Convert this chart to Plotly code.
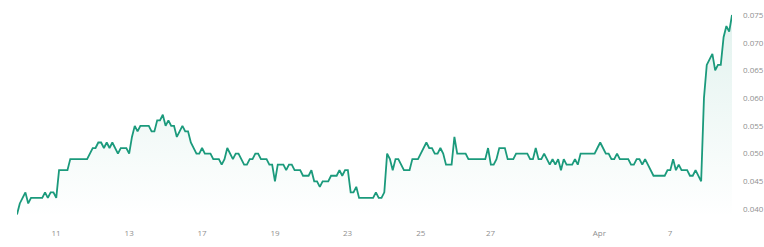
import plotly.graph_objects as go

# Series values (one per sample)
values = [
    0.039, 0.041, 0.042, 0.043, 0.041, 0.042, 0.042, 0.042, 0.042, 0.042,
    0.043, 0.042, 0.043, 0.043, 0.042, 0.047, 0.047, 0.047, 0.047, 0.049,
    0.049, 0.049, 0.049, 0.049, 0.049, 0.049, 0.050, 0.051, 0.051, 0.052,
    0.052, 0.051, 0.052, 0.051, 0.052, 0.051, 0.050, 0.051, 0.051, 0.051,
    0.050, 0.053, 0.055, 0.054, 0.055, 0.055, 0.055, 0.055, 0.054, 0.054,
    0.056, 0.056, 0.057, 0.055, 0.056, 0.055, 0.055, 0.053, 0.054, 0.055,
    0.054, 0.054, 0.052, 0.051, 0.050, 0.050, 0.051, 0.050, 0.050, 0.050,
    0.049, 0.049, 0.049, 0.048, 0.049, 0.051, 0.050, 0.049, 0.050, 0.050,
    0.049, 0.048, 0.048, 0.049, 0.049, 0.050, 0.050, 0.049, 0.049, 0.049,
    0.048, 0.048, 0.045, 0.048, 0.048, 0.048, 0.047, 0.048, 0.048, 0.047,
    0.047, 0.047, 0.046, 0.046, 0.046, 0.047, 0.045, 0.045, 0.044, 0.045,
    0.045, 0.045, 0.046, 0.046, 0.046, 0.047, 0.046, 0.047, 0.047, 0.043,
    0.043, 0.044, 0.042, 0.042, 0.042, 0.042, 0.042, 0.042, 0.043, 0.042,
    0.042, 0.043, 0.050, 0.049, 0.047, 0.049, 0.049, 0.048, 0.047, 0.047,
    0.047, 0.049, 0.049, 0.049, 0.050, 0.051, 0.052, 0.051, 0.051, 0.050,
    0.050, 0.051, 0.050, 0.048, 0.048, 0.048, 0.053, 0.050, 0.050, 0.050,
    0.050, 0.049, 0.049, 0.049, 0.049, 0.049, 0.049, 0.049, 0.051, 0.048,
    0.048, 0.049, 0.051, 0.051, 0.051, 0.049, 0.049, 0.049, 0.050, 0.050,
    0.050, 0.050, 0.050, 0.049, 0.049, 0.051, 0.049, 0.049, 0.050, 0.049,
    0.048, 0.049, 0.048, 0.049, 0.047, 0.049, 0.048, 0.048, 0.048, 0.049,
    0.048, 0.050, 0.050, 0.050, 0.050, 0.050, 0.050, 0.051, 0.052, 0.051,
    0.050, 0.050, 0.049, 0.049, 0.050, 0.049, 0.049, 0.049, 0.049, 0.048,
    0.048, 0.049, 0.049, 0.048, 0.049, 0.048, 0.047, 0.046, 0.046, 0.046,
    0.046, 0.046, 0.047, 0.047, 0.049, 0.047, 0.048, 0.047, 0.047, 0.047,
    0.046, 0.046, 0.047, 0.046, 0.045, 0.060, 0.066, 0.067, 0.068, 0.065,
    0.066, 0.066, 0.071, 0.073, 0.072, 0.075,
]
sample_index = list(range(len(values)))

# X tick labels and the sample index where each falls
x_tick_labels = ["11", "13", "17", "19", "23", "25", "27", "Apr", "7"]
x_tick_index = [13.9, 40.0, 66.0, 92.0, 117.9, 144.0, 168.9, 207.7, 232.9]

# Y ticks
y_ticks = [0.040, 0.045, 0.050, 0.055, 0.060, 0.065, 0.070, 0.075]

LINE = "#1b9a7c"
TICK_FONT = dict(family="Open Sans", size=8, color="#8f8f8f")

fig = go.Figure()
fig.add_trace(go.Scatter(
    x=sample_index,
    y=values,
    mode="lines",
    line=dict(color=LINE, width=1.8),
    fill="tozeroy",
    fillgradient=dict(
        type="vertical",
        colorscale=[[0, "rgba(27,154,124,0.0)"], [1, "rgba(27,154,124,0.13)"]],
        start=0.0385,
        stop=0.076,
    ),
    hoverinfo="skip",
    showlegend=False,
))

fig.update_layout(
    width=764,
    height=247,
    margin=dict(l=17, r=32, t=10, b=30, autoexpand=False),
    paper_bgcolor="white",
    plot_bgcolor="white",
    showlegend=False,
    xaxis=dict(
        range=[0, len(values) - 1],
        tickvals=x_tick_index,
        ticktext=x_tick_labels,
        showgrid=False,
        zeroline=False,
        showline=False,
        ticks="",
        tickfont=TICK_FONT,
        ticklabelstandoff=10,
        fixedrange=True,
    ),
    yaxis=dict(
        side="right",
        range=[0.038557, 0.075902],
        tickvals=y_ticks,
        tickformat=".3f",
        showgrid=False,
        zeroline=False,
        showline=False,
        ticks="",
        tickfont=TICK_FONT,
        ticklabelstandoff=10,
        fixedrange=True,
    ),
)

fig.write_html("out.html")
